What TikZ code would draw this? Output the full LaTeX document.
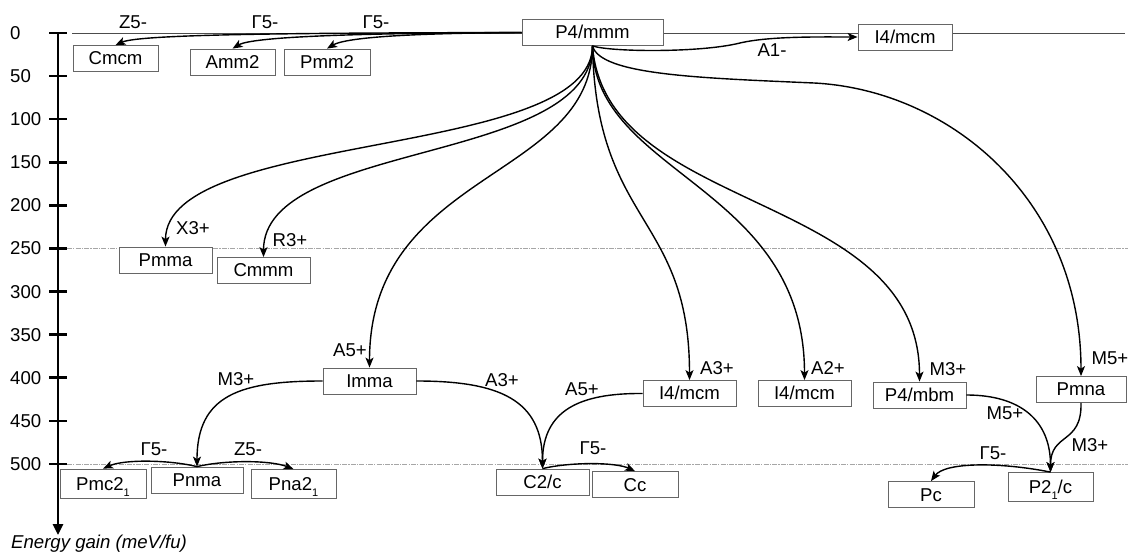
\documentclass[tikz,border=0pt]{standalone}
\usepackage{fontspec}
\setmainfont{Liberation Sans}
\usetikzlibrary{arrows.meta}
\newcommand\subone{\raisebox{-6pt}{\fontsize{11}{11}\selectfont 1}}
\begin{document}
\begin{tikzpicture}[x=1pt,y=-1pt,
  txt/.style={font=\fontsize{18.6}{20}\selectfont},
  box/.style={txt, draw=black!60, fill=white, line width=0.8pt, inner sep=0pt,
    minimum height=26pt, text height=13pt, text depth=0pt},
  lbl/.style={txt, inner sep=0pt, anchor=base},
  arr/.style={line width=1.4pt, -{Stealth[length=10pt,width=8pt,inset=2.5pt]}},
  axtick/.style={line width=2.6pt},
  refline/.style={draw=black!35, line width=0.7pt, dash pattern=on 5pt off 1.2pt on 1.2pt off 1.2pt},
  zeroline/.style={draw=black!70, line width=0.8pt}]
\useasboundingbox (0,0) rectangle (1128,553);

% reference lines
\draw[zeroline] (72,33) -- (1125,33);
\draw[refline] (67,248.5) -- (1128,248.5);
\draw[refline] (67,464) -- (1128,464);

% axis
\coordinate (axtop) at (58,33);
\coordinate (axbot) at (58,535);
\draw[line width=2.6pt, -{Triangle[length=11pt,width=10pt]}] (axtop) -- (axbot);
\foreach \v in {0,50,...,500} {
  \draw[axtick] (49,{33+0.862*\v}) -- (67,{33+0.862*\v});
  \node[txt, anchor=west, inner sep=0pt, text height=13pt, text depth=0pt] at (10,{33+0.862*\v}) {\v};
}
\node[txt, anchor=base west, inner sep=0pt] (axlabel) at (11,548) {\itshape Energy gain (meV/fu)};

% boxes
\node[box, minimum width=141pt] (p4)   at (592.5,32.5) {P4/mmm};
\node[box, minimum width=94pt]  (i4t)  at (905,37) {I4/mcm};
\node[box, minimum width=85pt]  (cmcm) at (115.5,58.5) {Cmcm};
\node[box, minimum width=85pt]  (amm)  at (232.5,62) {Amm2};
\node[box, minimum width=86pt]  (pmm)  at (327,62) {Pmm2};
\node[box, minimum width=93pt]  (pmma) at (165.5,260) {Pmma};
\node[box, minimum width=93pt]  (cmmm) at (263.5,270.5) {Cmmm};
\node[box, minimum width=93pt]  (imma) at (369.5,381) {Imma};
\node[box, minimum width=93pt]  (i4a)  at (689.5,393.5) {I4/mcm};
\node[box, minimum width=93pt]  (i4b)  at (804.5,393.5) {I4/mcm};
\node[box, minimum width=93pt]  (p4m)  at (919.5,395) {P4/mbm};
\node[box, minimum width=90pt]  (pmna) at (1081,389.5) {Pmna};
\node[box, minimum width=93pt]  (c2c)  at (542.5,482) {C2/c};
\node[box, minimum width=86pt]  (cc)   at (635,484.5) {Cc};
\node[box, minimum width=86pt]  (pc)   at (931,494.5) {Pc};
\node[box, minimum width=85pt, minimum height=29pt] (p21c) at (1050.5,487) {P2\subone/c};
\node[box, minimum width=86pt, minimum height=29pt] (pmc)  at (103,483.5) {Pmc2\subone};
\node[box, minimum width=92pt]  (pnma) at (197,480) {Pnma};
\node[box, minimum width=85pt, minimum height=29pt] (pna)  at (293.5,484) {Pna2\subone};

% top-left transitions
\draw[arr] (p4.west) .. controls (300,33) and (140,34) .. (cmcm.north);
\draw[arr] (p4.west) .. controls (400,33) and (255,35) .. (amm.north);
\draw[arr] (p4.west) .. controls (450,33) and (350,35) .. (pmm.north);
\node[lbl] (lz5) at (133,29) {Z5-};
\node[lbl] (lg5a) at (265,29) {Γ5-};
\node[lbl] (lg5b) at (376,29) {Γ5-};

% A1-
\draw[arr] (p4.south) .. controls (610,52) and (700,53) .. (740,43) .. controls (770,36) and (820,37) .. (i4t.west);
\node[lbl] (la1) at (772,57) {A1-};

% fan from P4/mmm
\draw[arr] (p4.south) .. controls (592,160) and (165.5,130) .. (pmma.north);
\draw[arr] (p4.south) .. controls (592,165) and (263.5,140) .. (cmmm.north);
\draw[arr] (p4.south) .. controls (592,180) and (369.5,170) .. (imma.north);
\draw[arr] (p4.south) .. controls (596,225) and (689.5,215) .. (i4a.north);
\draw[arr] (p4.south) .. controls (594,175) and (804.5,185) .. (i4b.north);
\draw[arr] (p4.south) .. controls (605,215) and (919.5,190) .. (p4m.north);
\draw[arr] (p4.south) .. controls (600,75) and (700,78) .. (814,83) .. controls (950,90) and (1081,200) .. (pmna.north);
\node[lbl] (lx3) at (193,235) {X3+};
\node[lbl] (lr3) at (290,247) {R3+};
\node[lbl] (la5a) at (350,357) {A5+};
\node[lbl] (la3a) at (717,375) {A3+};
\node[lbl] (la2) at (828,375) {A2+};
\node[lbl] (lm3a) at (948,376) {M3+};
\node[lbl] (lm5a) at (1110,365) {M5+};

% second level
\draw[arr] (imma.west) .. controls (240,381) and (197,395) .. (pnma.north);
\draw[arr] (imma.east) .. controls (500,381) and (542.5,400) .. (c2c.north);
\draw[arr] (i4a.west) .. controls (580,393) and (542.5,410) .. (c2c.north);
\draw[arr] (p4m.east) .. controls (1020,395) and (1050.5,420) .. (p21c.north);
\draw[arr] (pmna.south) .. controls (1082,445) and (1050.5,432) .. (p21c.north);
\node[lbl] (lm3b) at (236,386) {M3+};
\node[lbl] (la3b) at (502,387) {A3+};
\node[lbl] (la5b) at (582,396) {A5+};
\node[lbl] (lm5b) at (1005,420) {M5+};
\node[lbl] (lm3c) at (1090,452) {M3+};

% third level
\draw[arr] (pnma.north) .. controls (170,460) and (125,459) .. (pmc.north);
\draw[arr] (pnma.north) .. controls (225,460) and (270,460) .. (pna.north);
\draw[arr] (c2c.north) .. controls (570,462) and (615,462) .. (cc.north);
\draw[arr] (p21c.north) .. controls (1000,462) and (945,462) .. (pc.north);
\node[lbl] (lg5c) at (154,455) {Γ5-};
\node[lbl] (lz5b) at (248,455) {Z5-};
\node[lbl] (lg5d) at (593,454) {Γ5-};
\node[lbl] (lg5e) at (993,460) {Γ5-};
\end{tikzpicture}
\end{document}
